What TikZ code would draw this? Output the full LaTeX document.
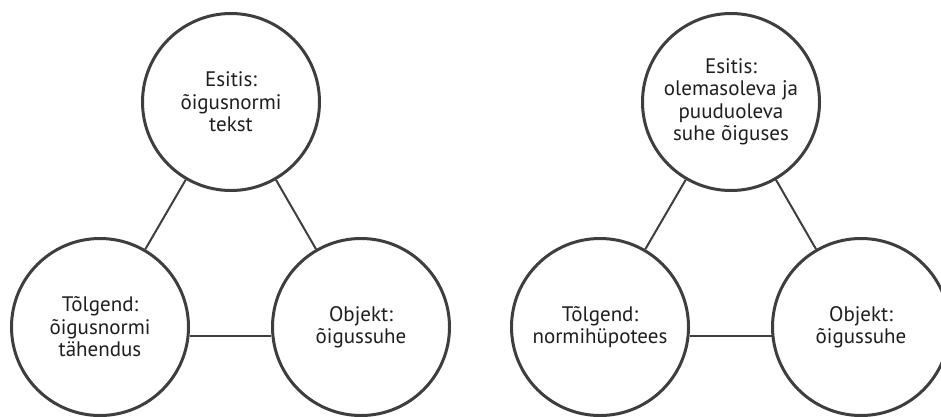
\documentclass[tikz,border=0pt]{standalone}
\usepackage{fontspec}
\setmainfont{PT Sans}
\usetikzlibrary{positioning}
\definecolor{ringgray}{HTML}{3E3E3E}
\definecolor{textgray}{HTML}{1E1E1E}

\begin{document}
\begin{tikzpicture}[x=1pt,y=-1pt,
  ring/.style={circle, draw=ringgray, line width=3pt, minimum size=177pt,
    inner sep=0pt, align=center, text=textgray,
    font=\fontsize{21}{22.5}\selectfont},
  link/.style={draw=ringgray, line width=2pt}]
  \useasboundingbox (0,0) rectangle (941,416);
  \foreach \i/\esitis/\tolgend in {%
    0/{Esitis:\\õigusnormi\\tekst}/{Tõlgend:\\õigusnormi\\tähendus},
    1/{Esitis:\\olemasoleva ja\\puuduoleva\\suhe õiguses}/{Tõlgend:\\normihüpotees}}{ %i
    \tikzset{xshift=\i*500}
    \node[ring] (esitis\i) at (231,102) {\esitis};
    \node[ring] (tolgend\i) at (100,327) {\tolgend};
    \node[ring] (objekt\i) at (361,327) {Objekt:\\õigussuhe};

    %% connectors
    \draw[link] (esitis\i) -- (tolgend\i);
    \draw[link] (esitis\i) -- (objekt\i);
    \draw[link] (tolgend\i.-6.4) -- (objekt\i.186.4);
  }
\end{tikzpicture}
\end{document}
